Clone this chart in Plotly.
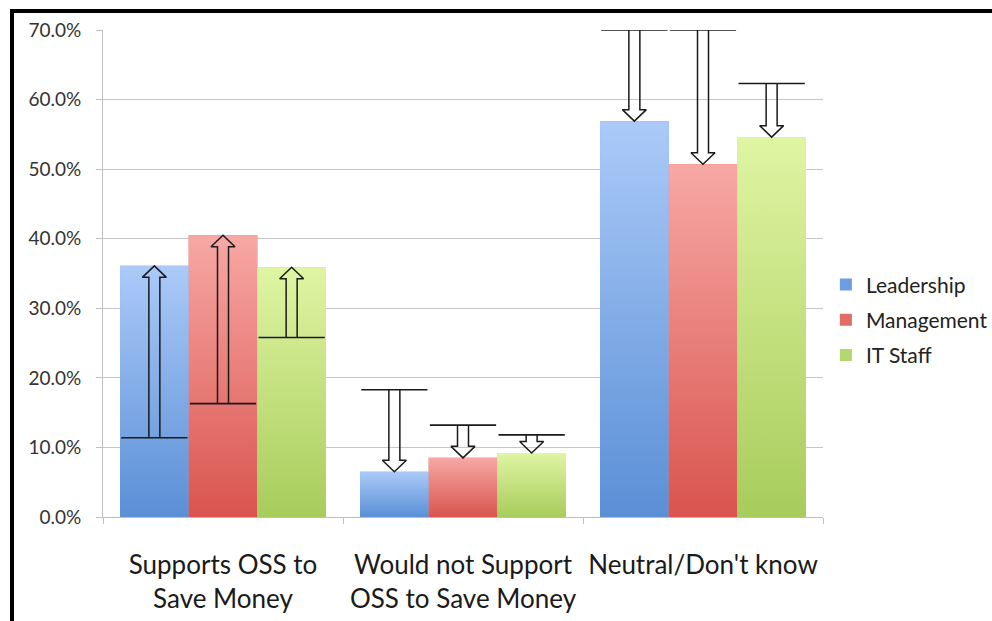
import plotly.graph_objects as go

# Survey responses by role (percent of respondents)
categories = ["Supports OSS to<br>Save Money",
              "Would not Support<br>OSS to Save Money",
              "Neutral/Don't know"]
groups = ["Leadership", "Management", "IT Staff"]

leadership = [36.1, 6.5, 56.9]
management = [40.5, 8.5, 50.7]
it_staff = [35.9, 9.2, 54.6]

# Earlier survey values the arrows start from
leadership_prior = [11.4, 18.3, 70.0]
management_prior = [16.3, 13.2, 70.0]
it_staff_prior = [25.8, 11.8, 62.3]

y_ticks = [0, 10, 20, 30, 40, 50, 60, 70]
y_tick_text = [f"{t:.1f}%" for t in y_ticks]

current = [leadership, management, it_staff]
prior = [leadership_prior, management_prior, it_staff_prior]

legend_colors = ["#6d9ee2", "#e36c68", "#b5d86e"]
grad_top = ["#abcaf8", "#f7a8a5", "#dff5a3"]
grad_bottom = ["#5a8fd6", "#d9544e", "#a8cc5b"]

FONT = "Lato"
W, H = 992, 621
ML, MR, MT, MB = 103, 169, 30, 104
PW, PH = W - ML - MR, H - MT - MB

BARGAP = 0.142
BW = (1 - BARGAP) / len(groups)
x_pos = list(range(len(categories)))

# pixel -> data unit conversions for arrow geometry
px_x = 3.0 / PW
px_y = 70.0 / PH

fig = go.Figure()

# plain bars (also provide the legend entries)
for i, g in enumerate(groups):
    fig.add_trace(go.Bar(
        x=x_pos, y=current[i], name=g, marker_color=legend_colors[i],
        marker_line_width=0, legendgroup=g, hoverinfo="skip",
    ))

# vertical gradient fills laid over each bar
for i, g in enumerate(groups):
    for j, v in enumerate(current[i]):
        x0 = x_pos[j] - (1 - BARGAP) / 2 + i * BW
        x1 = x0 + BW
        fig.add_trace(go.Scatter(
            x=[x0, x1, x1, x0, x0], y=[0, 0, v, v, 0],
            mode="none", fill="toself",
            fillgradient=dict(type="vertical",
                              colorscale=[[0, grad_bottom[i]], [1, grad_top[i]]],
                              start=0, stop=v),
            showlegend=False, hoverinfo="skip", legendgroup=g,
        ))

# block arrows from the earlier value to the current value
shaft = 5.5 * px_x
head = 12 * px_x
head_len = 11.5 * px_y
for i, g in enumerate(groups):
    for j, v in enumerate(current[i]):
        p = prior[i][j]
        x0 = x_pos[j] - (1 - BARGAP) / 2 + i * BW
        x1 = x0 + BW
        cx = (x0 + x1) / 2
        d = 1 if v > p else -1
        neck = v - d * head_len
        fig.add_trace(go.Scatter(
            x=[x0 + 0.005, x1 - 0.005], y=[p, p], mode="lines",
            line=dict(color="#1a1a1a", width=1.6),
            showlegend=False, hoverinfo="skip",
        ))
        fig.add_trace(go.Scatter(
            x=[cx - shaft, cx - shaft, cx - head, cx, cx + head, cx + shaft, cx + shaft],
            y=[p, neck, neck, v, neck, neck, p],
            mode="lines", line=dict(color="#1a1a1a", width=1.5),
            showlegend=False, hoverinfo="skip",
        ))

# frame along the top and left edges of the page
xl = (12 - ML) / PW
yt = (H - MB - 11) / PH
fig.add_shape(type="path", xref="paper", yref="paper",
              path=f"M {xl},{-0.3} L {xl},{yt} L {1.3},{yt}",
              line=dict(color="black", width=4))

fig.update_layout(
    width=W, height=H,
    margin=dict(l=ML, r=MR, t=MT, b=MB, autoexpand=False),
    paper_bgcolor="white", plot_bgcolor="white",
    barmode="group", bargap=BARGAP, bargroupgap=0,
    font=dict(family=FONT, color="#222222"),
    showlegend=True,
    legend=dict(x=1.004, xanchor="left", y=0.405, yanchor="middle",
                font=dict(size=21, color="#222222"),
                tracegroupgap=5, traceorder="grouped",
                bgcolor="rgba(0,0,0,0)"),
    xaxis=dict(
        range=[-0.5, 2.5], tickmode="array", tickvals=x_pos, ticktext=categories,
        ticks="", showgrid=False, zeroline=False, automargin=False,
        showline=True, linecolor="#bfbfbf", linewidth=1,
        tickfont=dict(size=26, color="#1a1a1a"), ticklabelstandoff=25,
        minor=dict(tickmode="array", tickvals=[-0.5, 0.5, 1.5, 2.5],
                   ticks="outside", ticklen=6, tickcolor="#bfbfbf", showgrid=False),
    ),
    yaxis=dict(
        range=[0, 70], tickmode="array", tickvals=y_ticks, ticktext=y_tick_text,
        showgrid=True, gridcolor="#c6c6c6", gridwidth=1, zeroline=False,
        automargin=False,
        showline=True, linecolor="#bfbfbf", linewidth=1,
        ticks="outside", ticklen=6, tickcolor="#bfbfbf",
        tickfont=dict(size=19, color="#333333"), ticklabelstandoff=11,
    ),
)

fig.write_html("out.html")
